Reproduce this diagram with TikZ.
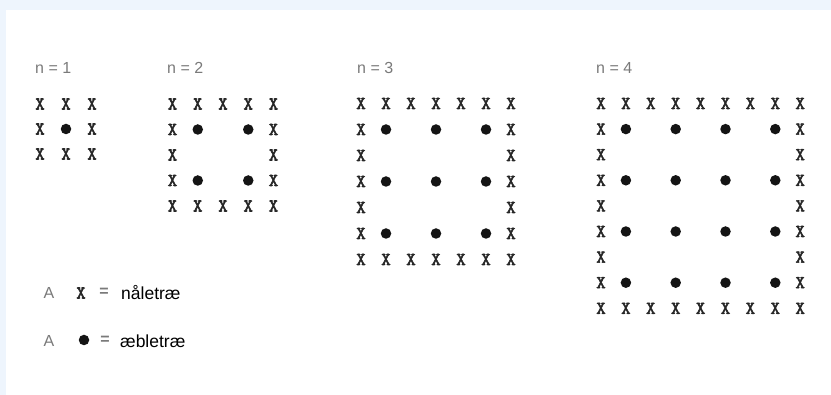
\documentclass[tikz,border=0pt]{standalone}
\usepackage{fontspec}
\setmainfont{Liberation Sans}
\newfontfamily\xfont[FakeBold=3]{Latin Modern Mono}
\definecolor{bgblue}{HTML}{EEF5FD}
\definecolor{xgray}{HTML}{262626}
\definecolor{lblgray}{HTML}{7A7A7A}
\newcommand\treegrid[6]{%
  \pgfmathtruncatemacro\tgM{2*#2}%
  \foreach \i in {0,...,\tgM}{%
    \foreach \j in {0,...,\tgM}{%
      \pgfmathtruncatemacro\tgBorder{or(or(\i==0,\j==0),or(\i==\tgM,\j==\tgM))}%
      \pgfmathtruncatemacro\tgInner{and(isodd(\i),isodd(\j))}%
      \ifnum\tgBorder=1
        \node[xmark] (#1-\i-\j) at ({#3+\i*#5},{#4+\j*#6}) {X};
      \else
        \ifnum\tgInner=1
          \node[apple] (#1-\i-\j) at ({#3+\i*#5},{#4+\j*#6}) {};
        \fi
      \fi
    }%
  }%
}
\begin{document}
\begin{tikzpicture}[x=1pt,y=-1pt,
  xmark/.style={font=\xfont\fontsize{18}{18}\selectfont, text=xgray, inner sep=0pt},
  apple/.style={circle, fill=black!92, minimum size=10.5pt, inner sep=0pt},
  nlabel/.style={font=\fontsize{16}{16}\selectfont, text=lblgray, anchor=west, inner sep=0pt},
  glabel/.style={font=\fontsize{16}{16}\selectfont, text=lblgray, inner sep=0pt},
  legtext/.style={font=\fontsize{17.5}{17.5}\selectfont, text=black, anchor=west, inner sep=0pt}]
\useasboundingbox (0,0) rectangle (831,395);
\fill[bgblue] (0,0) rectangle (831,395);
\fill[white] (6,10) rectangle (831,395);

\node[nlabel] (n1) at (35,68) {n = 1};
\node[nlabel] (n2) at (167,68) {n = 2};
\node[nlabel] (n3) at (357,68) {n = 3};
\node[nlabel] (n4) at (596,68) {n = 4};

\treegrid{ga}{1}{40}{104}{26}{25}
\treegrid{gb}{2}{172.5}{104}{25.25}{25.5}
\treegrid{gc}{3}{361}{103.5}{25}{26}
\treegrid{gd}{4}{601}{103.5}{24.9}{25.6}

\node[glabel] (la1) at (49,293) {A};
\node[xmark] (lx) at (81,293) {X};
\node[glabel, font=\bfseries\fontsize{16}{16}\selectfont] (le1) at (104,292) {=};
\node[legtext] (lt1) at (121,293) {nåletræ};

\node[glabel] (la2) at (49,341) {A};
\node[apple] (ld) at (84,340) {};
\node[glabel, font=\bfseries\fontsize{16}{16}\selectfont] (le2) at (105,340) {=};
\node[legtext] (lt2) at (120,341) {æbletræ};
\end{tikzpicture}
\end{document}
